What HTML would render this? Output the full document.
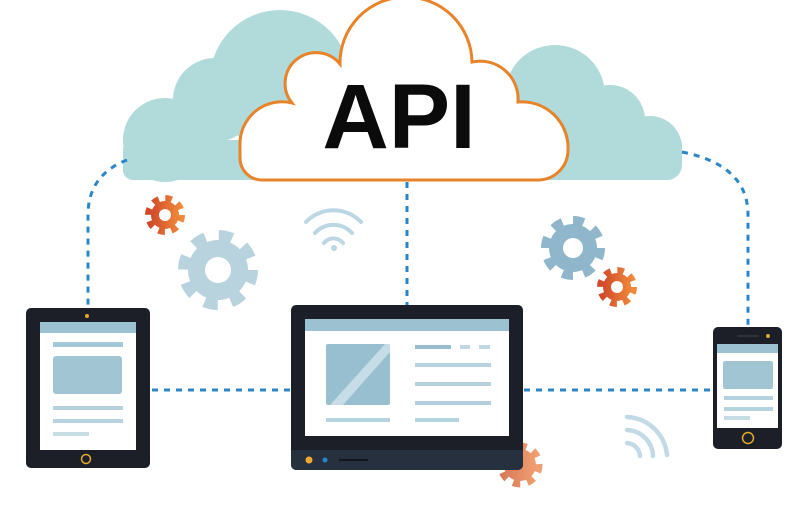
<!DOCTYPE html>
<html><head><meta charset="utf-8"><style>
html,body{margin:0;padding:0;background:#fff;width:798px;height:510px;overflow:hidden}
</style></head><body>
<svg width="798" height="510" viewBox="0 0 798 510" xmlns="http://www.w3.org/2000/svg">
<defs>
<linearGradient id="og" x1="0" x2="1"><stop offset="0" stop-color="#d0492a"/><stop offset="1" stop-color="#f0893a"/></linearGradient>
<linearGradient id="og2" x1="0" x2="1"><stop offset="0" stop-color="#d97a5a"/><stop offset="1" stop-color="#f0a070"/></linearGradient>
</defs>
<!-- teal clouds -->
<g fill="#b0dbda">
<circle cx="165" cy="140" r="42"/><circle cx="215" cy="100" r="42"/><circle cx="280" cy="80" r="70"/>
<rect x="123" y="140" width="200" height="40" rx="10"/>
<circle cx="555" cy="95" r="50"/><circle cx="610" cy="120" r="35"/><circle cx="650" cy="148" r="32"/>
<rect x="500" y="130" width="182" height="50" rx="15"/>
</g>
<!-- dotted connectors -->
<g fill="none" stroke="#2a86c8" stroke-width="3" stroke-dasharray="6 6">
<path d="M127 160 Q88 175 88 215 L88 310"/>
<path d="M682 152 Q748 165 748 215 L748 327"/>
<path d="M407 182 L407 305"/>
<path d="M152 390 L290 390"/>
<path d="M524 390 L714 390"/>
</g>
<!-- main cloud -->
<path d="M262 180 A22 22 0 0 1 240 158 L240 145 A42 42 0 0 1 292 103 A30 30 0 0 1 340 64 A66 66 0 0 1 472 62 A38 38 0 0 1 518 102 A46 46 0 0 1 568 150 A30 30 0 0 1 538 180 Z" fill="#fff" stroke="#e8832a" stroke-width="3"/>
<text x="399" y="148" text-anchor="middle" font-family="Liberation Sans, sans-serif" font-weight="bold" font-size="92" fill="#0b0b0b">API</text>
<!-- gears -->
<g>
<circle cx="165" cy="215" r="14" fill="url(#og)"/><circle cx="165" cy="215" r="16" fill="none" stroke="url(#og)" stroke-width="8" stroke-dasharray="6.3 6.3"/><circle cx="165" cy="215" r="6" fill="#fff"/>
<circle cx="218" cy="270" r="30" fill="#b8d2de"/><circle cx="218" cy="270" r="33" fill="none" stroke="#b8d2de" stroke-width="14" stroke-dasharray="13 13"/><circle cx="218" cy="270" r="13" fill="#fff"/>
<circle cx="573" cy="248" r="24" fill="#8fb6ca"/><circle cx="573" cy="248" r="26" fill="none" stroke="#8fb6ca" stroke-width="12" stroke-dasharray="10.2 10.2"/><circle cx="573" cy="248" r="10" fill="#fff"/>
<circle cx="617" cy="287" r="14" fill="url(#og)"/><circle cx="617" cy="287" r="16" fill="none" stroke="url(#og)" stroke-width="8" stroke-dasharray="6.3 6.3"/><circle cx="617" cy="287" r="6" fill="#fff"/>
<circle cx="520" cy="465" r="16" fill="url(#og2)"/><circle cx="520" cy="465" r="18" fill="none" stroke="url(#og2)" stroke-width="9" stroke-dasharray="7 7"/>
</g>
<!-- wifi top -->
<g fill="none" stroke="#bcd7e4" stroke-width="4" stroke-linecap="round">
<path d="M306 222 A38 38 0 0 1 361 222"/><path d="M315 233 A25 25 0 0 1 352 233"/><path d="M324 243 A12 12 0 0 1 343 243"/>
</g>
<circle cx="334" cy="248" r="3" fill="#bcd7e4"/>
<!-- wifi bottom -->
<g fill="none" stroke="#c2dae6" stroke-width="4.5" stroke-linecap="round">
<path d="M627 417 A42 42 0 0 1 667 455"/><path d="M627 430 A27 27 0 0 1 653 456"/><path d="M627 443 A14 14 0 0 1 640 456"/>
</g>
<!-- tablet -->
<rect x="26" y="308" width="124" height="160" rx="5" fill="#1c1f28"/>
<rect x="40" y="322" width="96" height="128" fill="#fff"/>
<rect x="40" y="322" width="96" height="11" fill="#9cc2d2"/>
<rect x="53" y="342" width="70" height="5" fill="#a6c7d5"/>
<rect x="53" y="356" width="69" height="38" rx="3" fill="#a2c5d4"/>
<rect x="53" y="406" width="70" height="4" fill="#b6d2de"/>
<rect x="53" y="419" width="70" height="4" fill="#b6d2de"/>
<rect x="53" y="432" width="36" height="4" fill="#c6dde6"/>
<circle cx="87" cy="316" r="2" fill="#e5a92a"/>
<circle cx="86" cy="459" r="4.5" fill="none" stroke="#e5a92a" stroke-width="1.5"/>
<!-- laptop -->
<rect x="291" y="305" width="232" height="165" rx="5" fill="#1c1f28"/>
<path d="M291 450 L523 450 L523 464 A6 6 0 0 1 517 470 L297 470 A6 6 0 0 1 291 464 Z" fill="#27303f"/>
<rect x="305" y="319" width="204" height="117" fill="#fff"/>
<rect x="305" y="319" width="204" height="12" fill="#9cc2d2"/>
<rect x="326" y="344" width="64" height="61" rx="2" fill="#98bfd0"/>
<path d="M330 405 L385 344 L390 344 L390 352 L343 405 Z" fill="#c6dce6"/>
<rect x="326" y="418" width="64" height="4" fill="#b6d2de"/>
<rect x="415" y="345" width="36" height="4" fill="#98bccd"/><rect x="460" y="345" width="10" height="4" fill="#c0d8e2"/><rect x="479" y="345" width="11" height="4" fill="#c0d8e2"/>
<rect x="415" y="363" width="76" height="4" fill="#b6d2de"/>
<rect x="415" y="382" width="76" height="4" fill="#b6d2de"/>
<rect x="415" y="401" width="76" height="4" fill="#b0cedb"/>
<rect x="415" y="418" width="44" height="4" fill="#b6d2de"/>
<circle cx="309" cy="460" r="3.5" fill="#f0a830"/>
<circle cx="325" cy="460" r="2.5" fill="#2a86c8"/>
<rect x="339" y="459" width="29" height="2" fill="#12161e"/>
<!-- phone -->
<rect x="713" y="327" width="69" height="122" rx="5" fill="#1c1f28"/>
<rect x="717" y="344" width="61" height="84" fill="#fff"/>
<rect x="717" y="344" width="61" height="9" fill="#9cc2d2"/>
<rect x="723" y="361" width="50" height="28" rx="2" fill="#a2c5d4"/>
<rect x="724" y="396" width="49" height="4" fill="#b6d2de"/>
<rect x="724" y="407" width="49" height="4" fill="#b6d2de"/>
<rect x="724" y="416" width="26" height="4" fill="#c6dde6"/>
<rect x="737" y="335" width="22" height="2" fill="#2d3340"/>
<circle cx="768" cy="336" r="2" fill="#e5a92a"/>
<circle cx="748" cy="438" r="5.5" fill="none" stroke="#e5a92a" stroke-width="1.5"/>
</svg>
</body></html>
